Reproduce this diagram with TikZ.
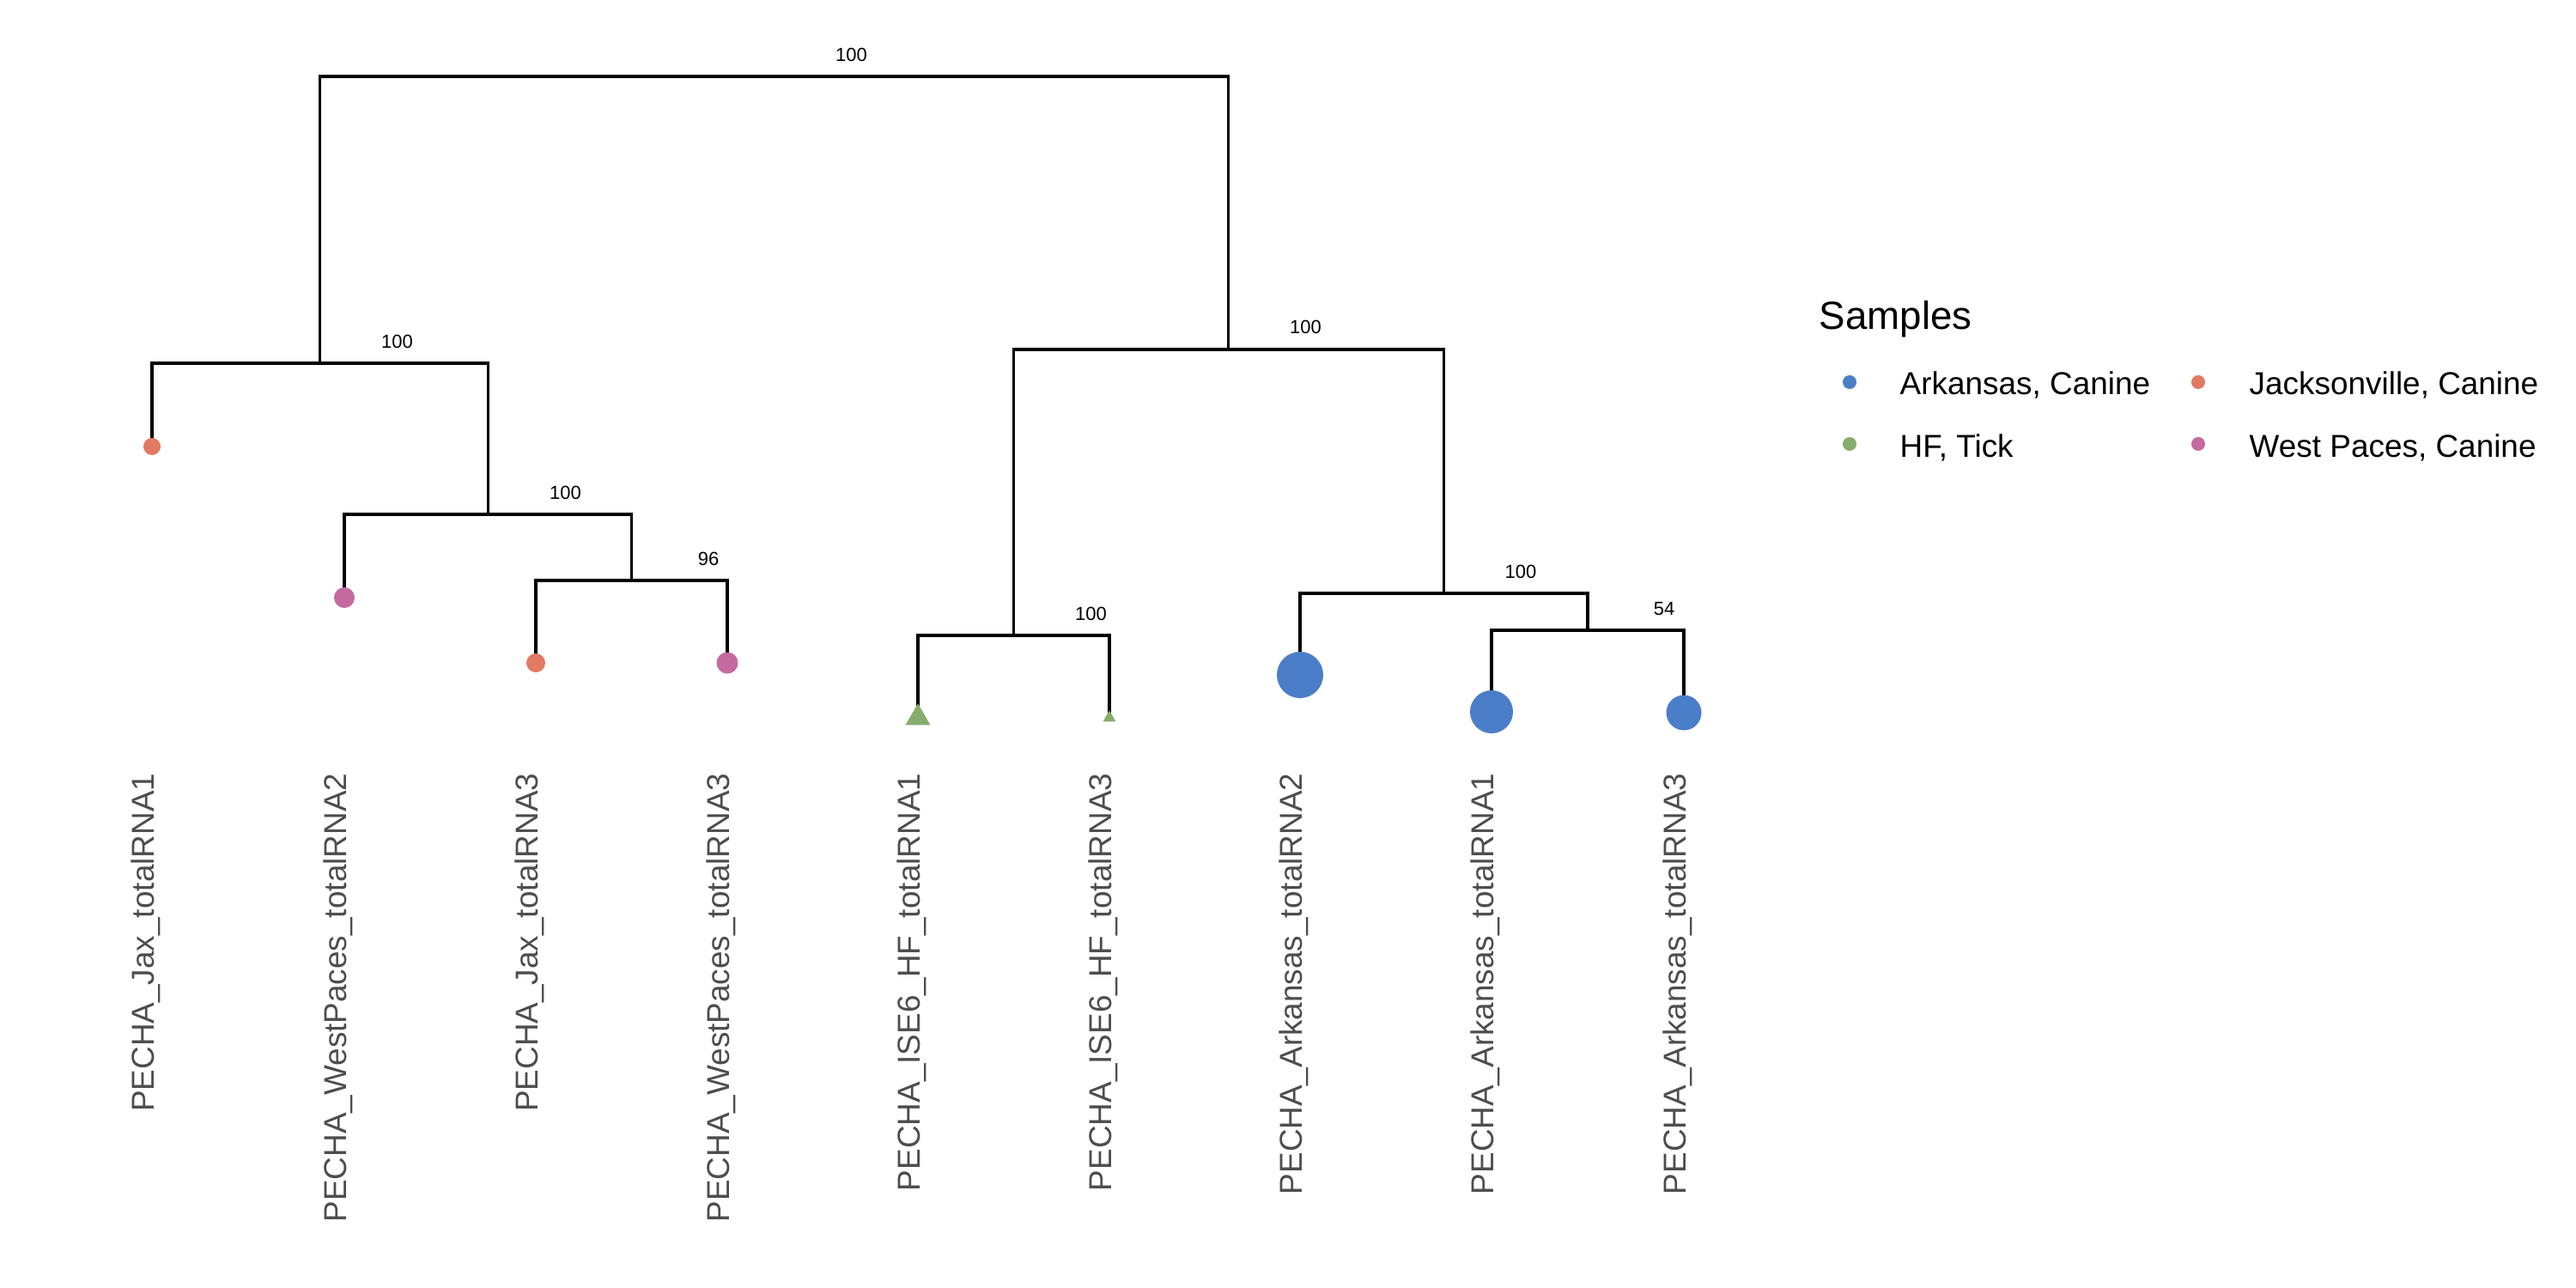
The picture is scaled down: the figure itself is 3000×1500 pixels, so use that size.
\documentclass[tikz,border=0pt]{standalone}
\usepackage{fontspec}
\setmainfont{Liberation Sans}
\usetikzlibrary{shapes.geometric}
\definecolor{arkblue}{HTML}{4A7EC8}
\definecolor{jaxorange}{HTML}{E27963}
\definecolor{hfgreen}{HTML}{86AD6C}
\definecolor{wppink}{HTML}{C46AA0}
\definecolor{labgrey}{HTML}{4D4D4D}
\begin{document}
\begin{tikzpicture}[x=0.01cm,y=-0.01cm,
  branch/.style={line width=1pt, draw=black, line join=miter},
  tipdot/.style={circle, fill=#1, draw=none, inner sep=0pt},
  tiptri/.style={regular polygon, regular polygon sides=3, fill=hfgreen, draw=none, inner sep=0pt},
  boot/.style={inner sep=0pt, font=\fontsize{6.26}{7}\selectfont},
  leaflab/.style={rotate=90, anchor=base east, inner sep=0pt, text=labgrey, font=\fontsize{10.5}{12}\selectfont},
  legtxt/.style={anchor=base west, inner sep=0pt, font=\fontsize{10.5}{12}\selectfont},
  legdot/.style={circle, fill=#1, draw=none, inner sep=0pt, minimum size=0.16cm},
]
\useasboundingbox (0,0) rectangle (3000,1500);

% tip positions
\coordinate (tJax1) at (177,520);
\coordinate (tWP2)  at (401,696);
\coordinate (tJax3) at (624,772);
\coordinate (tWP3)  at (847,772);
\coordinate (tHF1)  at (1069,836);
\coordinate (tHF3)  at (1292,836);
\coordinate (tArk2) at (1514,786);
\coordinate (tArk1) at (1737,829);
\coordinate (tArk3) at (1961,830);

% internal nodes
\coordinate (n96)   at (735.5,676);
\coordinate (nWJ)   at (568.5,599);
\coordinate (nL)    at (372.5,423);
\coordinate (nHF)   at (1180.5,740);
\coordinate (n54)   at (1849,734);
\coordinate (nArk)  at (1681.5,691);
\coordinate (nR)    at (1430.5,407);
\coordinate (root)  at (901.5,89);

% branches
\draw[branch] (tJax3) |- (n96) -| (tWP3);
\draw[branch] (tWP2) |- (nWJ) -| (n96);
\draw[branch] (tJax1) |- (nL) -| (nWJ);
\draw[branch] (tHF1) |- (nHF) -| (tHF3);
\draw[branch] (tArk1) |- (n54) -| (tArk3);
\draw[branch] (tArk2) |- (nArk) -| (n54);
\draw[branch] (nHF) |- (nR) -| (nArk);
\draw[branch] (nL) |- (root) -| (nR);

% bootstrap values
\node[boot] (bRoot) at (991.5,64) {100};
\node[boot] (bL)    at (462.5,398) {100};
\node[boot] (bWJ)   at (658.5,574) {100};
\node[boot] (b96)   at (825,651) {96};
\node[boot] (bR)    at (1520.5,381) {100};
\node[boot] (bHF)   at (1270.5,715) {100};
\node[boot] (bArk)  at (1771,666) {100};
\node[boot] (b54)   at (1938,709) {54};

% tip symbols
\node[tipdot=jaxorange, minimum size=0.20cm] (dJax1) at (tJax1) {};
\node[tipdot=wppink,    minimum size=0.24cm] (dWP2)  at (tWP2) {};
\node[tipdot=jaxorange, minimum size=0.22cm] (dJax3) at (tJax3) {};
\node[tipdot=wppink,    minimum size=0.25cm] (dWP3)  at (tWP3) {};
\node[tiptri, minimum size=0.335cm] (dHF1) at (tHF1) {};
\node[tiptri, minimum size=0.173cm] (dHF3) at (tHF3) {};
\node[tipdot=arkblue,   minimum size=0.54cm] (dArk2) at (tArk2) {};
\node[tipdot=arkblue,   minimum size=0.50cm] (dArk1) at (tArk1) {};
\node[tipdot=arkblue,   minimum size=0.41cm] (dArk3) at (tArk3) {};

% tip labels
\node[leaflab] (lJax1) at (179,900)  {PECHA\_Jax\_totalRNA1};
\node[leaflab] (lWP2)  at (403,900)  {PECHA\_WestPaces\_totalRNA2};
\node[leaflab] (lJax3) at (626,900)  {PECHA\_Jax\_totalRNA3};
\node[leaflab] (lWP3)  at (849,900)  {PECHA\_WestPaces\_totalRNA3};
\node[leaflab] (lHF1)  at (1071,900) {PECHA\_ISE6\_HF\_totalRNA1};
\node[leaflab] (lHF3)  at (1294,900) {PECHA\_ISE6\_HF\_totalRNA3};
\node[leaflab] (lArk2) at (1516,900) {PECHA\_Arkansas\_totalRNA2};
\node[leaflab] (lArk1) at (1739,900) {PECHA\_Arkansas\_totalRNA1};
\node[leaflab] (lArk3) at (1963,900) {PECHA\_Arkansas\_totalRNA3};

% legend
\node[anchor=base west, inner sep=0pt, font=\fontsize{13}{15}\selectfont] (legTitle) at (2118,383) {Samples};
\node[legdot=arkblue]   (kArk) at (2154,445) {};
\node[legtxt] (tkArk) at (2212,459) {Arkansas, Canine};
\node[legdot=jaxorange] (kJax) at (2560,445) {};
\node[legtxt] (tkJax) at (2619,459) {Jacksonville, Canine};
\node[legdot=hfgreen]   (kHF) at (2154,517) {};
\node[legtxt] (tkHF) at (2212,532) {HF, Tick};
\node[legdot=wppink]    (kWP) at (2560,517) {};
\node[legtxt] (tkWP) at (2619,532) {West Paces, Canine};
\end{tikzpicture}
\end{document}
